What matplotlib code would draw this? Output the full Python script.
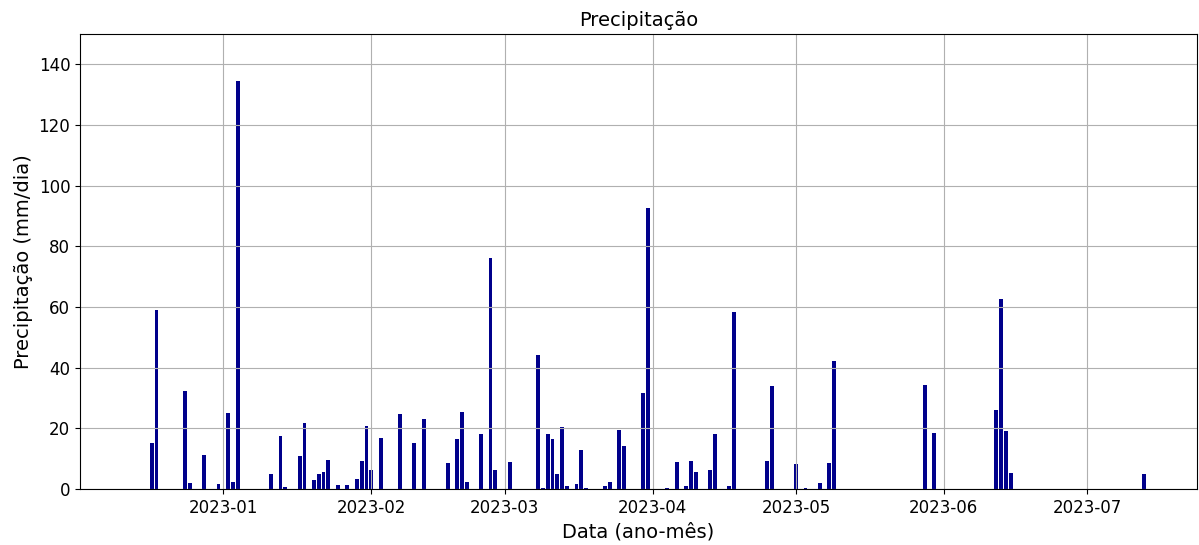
import numpy as np
import pandas as pd
import matplotlib
matplotlib.use("Agg")
import matplotlib.pyplot as plt

# days with rain, every other day is zero
rain_dates = [
    "2022-12-17", "2022-12-18", "2022-12-24", "2022-12-25", "2022-12-28", "2022-12-31",
    "2023-01-02", "2023-01-03", "2023-01-04", "2023-01-11", "2023-01-13", "2023-01-14",
    "2023-01-17", "2023-01-18", "2023-01-20", "2023-01-21", "2023-01-22", "2023-01-23",
    "2023-01-25", "2023-01-27", "2023-01-29", "2023-01-30", "2023-01-31", "2023-02-01",
    "2023-02-03", "2023-02-07", "2023-02-10", "2023-02-12", "2023-02-17", "2023-02-19",
    "2023-02-20", "2023-02-21", "2023-02-24", "2023-02-26", "2023-02-27", "2023-03-02",
    "2023-03-08", "2023-03-09", "2023-03-10", "2023-03-11", "2023-03-12", "2023-03-13",
    "2023-03-14", "2023-03-16", "2023-03-17", "2023-03-18", "2023-03-22", "2023-03-23",
    "2023-03-25", "2023-03-26", "2023-03-30", "2023-03-31", "2023-04-04", "2023-04-06",
    "2023-04-08", "2023-04-09", "2023-04-10", "2023-04-13", "2023-04-14", "2023-04-17",
    "2023-04-18", "2023-04-25", "2023-04-26", "2023-05-01", "2023-05-03", "2023-05-06",
    "2023-05-08", "2023-05-09", "2023-05-28", "2023-05-30", "2023-06-12", "2023-06-13",
    "2023-06-14", "2023-06-15", "2023-07-13",
]
rain_mm = [
    15.0, 59.0, 32.3, 2.1, 11.1, 1.7,
    24.9, 2.3, 134.4, 4.9, 17.6, 0.7,
    11.0, 21.6, 3.1, 4.8, 5.6, 9.4,
    1.4, 1.4, 3.2, 9.1, 20.8, 6.4,
    16.7, 24.8, 15.2, 23.1, 8.6, 16.4,
    25.4, 2.2, 18.1, 76.3, 6.4, 8.9,
    44.1, 0.4, 18.1, 16.4, 4.8, 20.4,
    0.9, 1.6, 12.9, 0.4, 0.9, 2.4,
    19.3, 14.2, 31.6, 92.8, 0.4, 8.9,
    0.9, 9.1, 5.6, 6.2, 18.2, 0.9,
    58.3, 9.1, 33.8, 8.1, 0.4, 2.1,
    8.4, 42.1, 34.4, 18.4, 26.2, 62.6,
    19.0, 5.4, 4.9,
]
first_day = "2022-12-13"
last_day = "2023-07-13"

serie = pd.Series(rain_mm, index=pd.to_datetime(rain_dates))
dias = pd.date_range(first_day, last_day, freq="D")
serie = serie.reindex(dias, fill_value=0.0)

fig = plt.figure(figsize=(11.99, 5.45), dpi=100)
ax = fig.add_axes([0.0667, 0.1028, 0.9316, 0.8348])

ax.bar(serie.index, serie.values, color="darkblue")
ax.set_ylim(0, 150)
ax.grid(True)

ax.set_title("Precipitação", fontsize=14)
ax.set_xlabel("Data (ano-mês)", fontsize=14)
ax.set_ylabel("Precipitação (mm/dia)", fontsize=14)
ax.tick_params(labelsize=12)

fig.savefig("out.png", dpi=100)
